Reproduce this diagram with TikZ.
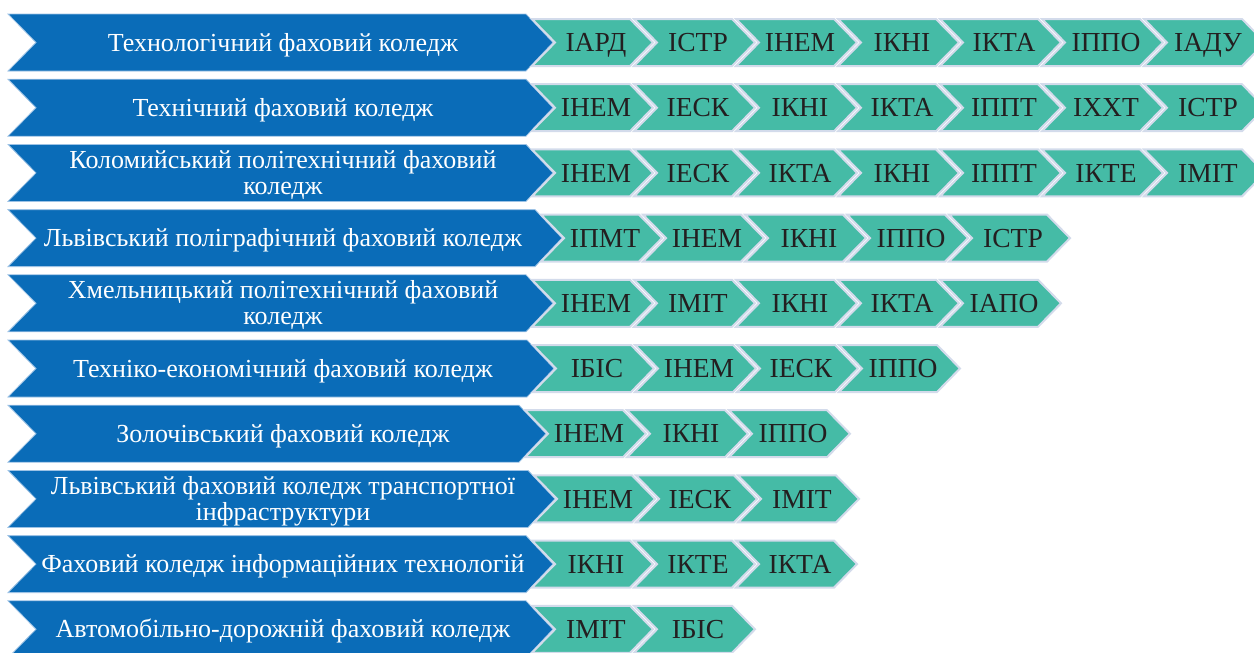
\documentclass[tikz,border=0pt]{standalone}
\usepackage{fontspec}
\setmainfont{Liberation Serif}
\definecolor{collblue}{HTML}{0A6CB8}
\definecolor{blueedge}{HTML}{9CC2E5}
\definecolor{instgreen}{HTML}{45BBA6}
\definecolor{instedge}{HTML}{D3DBEB}
\definecolor{labeltext}{HTML}{231F20}
\tikzset{
  collshape/.style={fill=collblue, draw=blueedge, line width=0.8pt, line join=miter},
  instshape/.style={fill=instgreen, draw=instedge, line width=2pt, line join=miter},
  colltext/.style={text=white, font=\fontsize{26}{26}\selectfont, align=center, inner sep=0pt},
  insttext/.style={text=labeltext, font=\fontsize{27.5}{27.5}\selectfont, inner sep=0pt, anchor=base},
}
% #1 row index, #2 tip x of blue chevron, #3 label, #4 list of institutes, #5 label options
\newcommand\collrow[5]{%
  \pgfmathsetmacro\rowtop{14+65.2*(#1-1)}%
  \pgfmathsetmacro\rowmid{\rowtop+28.5}%
  \pgfmathsetmacro\rowbot{\rowtop+57}%
  \pgfmathsetmacro\rowflat{#2-27}%
  \draw[collshape] (8,\rowtop) -- (\rowflat,\rowtop) -- (#2,\rowmid) -- (\rowflat,\rowbot) -- (8,\rowbot) -- (36,\rowmid) -- cycle;
  \node[colltext, #5] (coll#1) at (283,\rowmid) {#3};
  \foreach \lab [count=\k] in {#4} {
    \pgfmathsetmacro\instx{#2-21+102*(\k-1)}
    \draw[instshape] (\instx,\rowmid-23.5) -- (\instx+98,\rowmid-23.5) -- (\instx+121,\rowmid)
      -- (\instx+98,\rowmid+23.5) -- (\instx,\rowmid+23.5) -- (\instx+23,\rowmid) -- cycle;
    \node[insttext] (inst#1-\k) at (\instx+64,\rowmid+9.1) {\lab};
  }
}
\begin{document}
\begin{tikzpicture}[x=1pt,y=-1pt]
\useasboundingbox (0,0) rectangle (1254,653);
\clip (0,0) rectangle (1254,653);
\collrow{1}{553}{Технологічний фаховий коледж}{ІАРД,ІСТР,ІНЕМ,ІКНІ,ІКТА,ІППО,ІАДУ}{anchor=base, yshift=-8.6pt}
\collrow{2}{553}{Технічний фаховий коледж}{ІНЕМ,ІЕСК,ІКНІ,ІКТА,ІППТ,ІХХТ,ІСТР}{anchor=base, yshift=-8.6pt}
\collrow{3}{553}{Коломийський політехнічний фаховий\\коледж}{ІНЕМ,ІЕСК,ІКТА,ІКНІ,ІППТ,ІКТЕ,ІМІТ}{anchor=center, yshift=-2pt}
\collrow{4}{562}{Львівський поліграфічний фаховий коледж}{ІПМТ,ІНЕМ,ІКНІ,ІППО,ІСТР}{anchor=base, yshift=-8.6pt}
\collrow{5}{553}{Хмельницький політехнічний фаховий\\коледж}{ІНЕМ,ІМІТ,ІКНІ,ІКТА,ІАПО}{anchor=center, yshift=-2pt}
\collrow{6}{554}{Техніко-економічний фаховий коледж}{ІБІС,ІНЕМ,ІЕСК,ІППО}{anchor=base, yshift=-8.6pt}
\collrow{7}{546}{Золочівський фаховий коледж}{ІНЕМ,ІКНІ,ІППО}{anchor=base, yshift=-8.6pt}
\collrow{8}{555}{Львівський фаховий коледж транспортної\\інфраструктури}{ІНЕМ,ІЕСК,ІМІТ}{anchor=center, yshift=-2pt}
\collrow{9}{553}{Фаховий коледж інформаційних технологій}{ІКНІ,ІКТЕ,ІКТА}{anchor=base, yshift=-8.6pt}
\collrow{10}{553}{Автомобільно-дорожній фаховий коледж}{ІМІТ,ІБІС}{anchor=base, yshift=-8.6pt}
\end{tikzpicture}
\end{document}
